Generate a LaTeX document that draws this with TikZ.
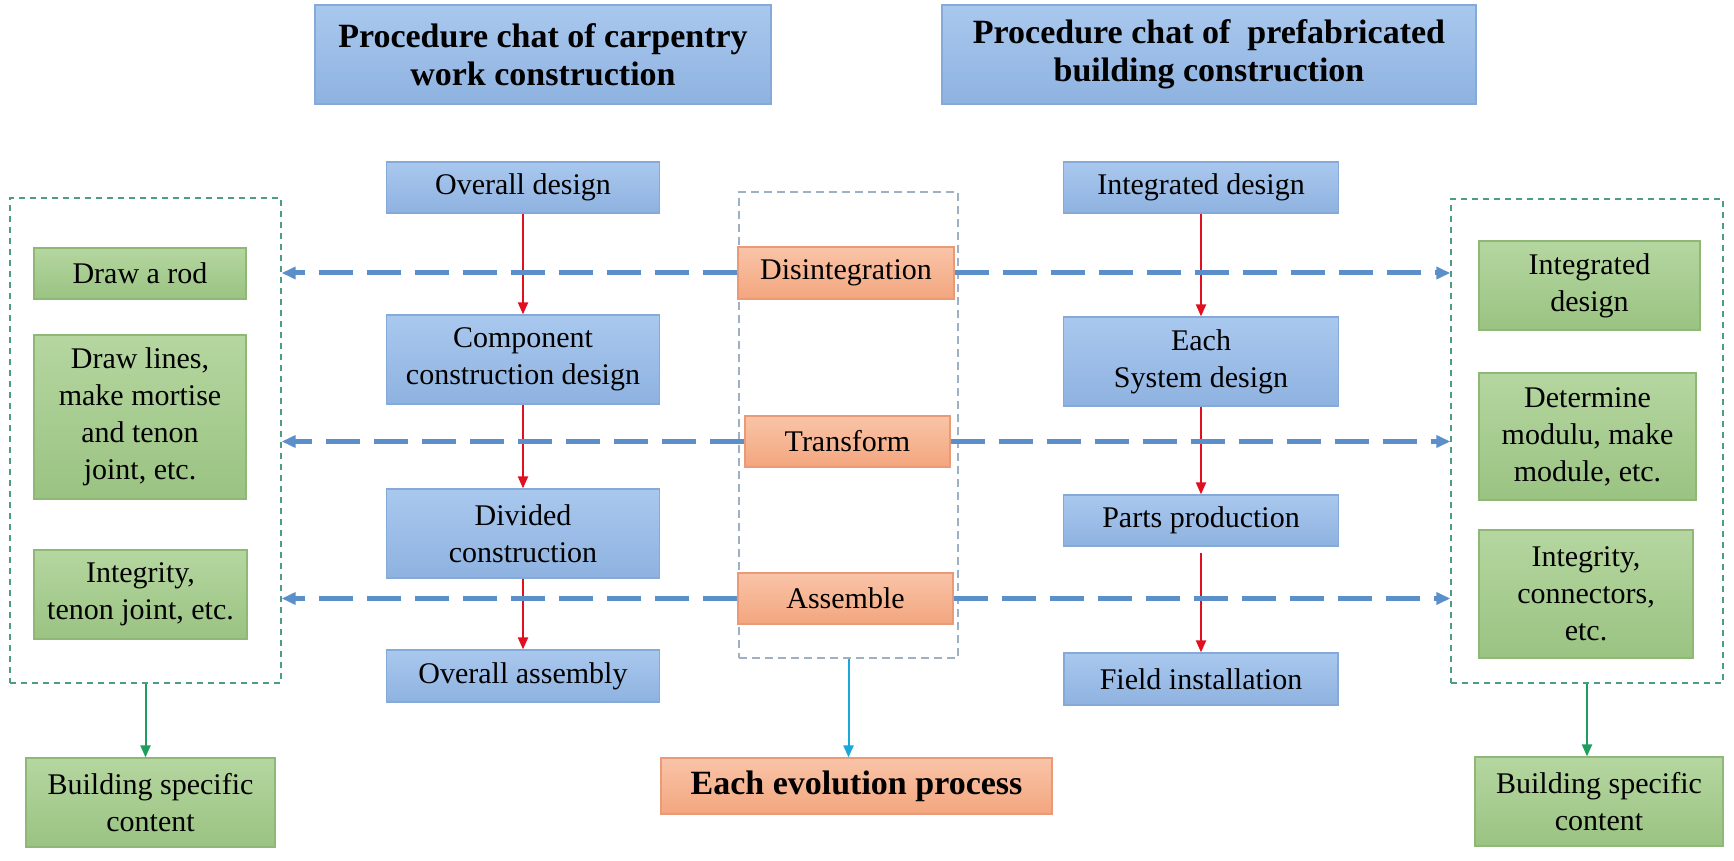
\documentclass[tikz,border=0pt]{standalone}
\usepackage{fontspec}
\setmainfont{Liberation Serif}
\usepackage{xcolor}
\usetikzlibrary{arrows.meta, positioning}
\definecolor{blueT}{HTML}{A9C8EE}
\definecolor{blueB}{HTML}{8EB2E0}
\definecolor{blueline}{HTML}{86AAD8}
\definecolor{greenT}{HTML}{B5D6A0}
\definecolor{greenB}{HTML}{9AC382}
\definecolor{greenline}{HTML}{8FB877}
\definecolor{orangeT}{HTML}{F9C4A8}
\definecolor{orangeB}{HTML}{F3A67E}
\definecolor{orangeline}{HTML}{EA9A76}
\definecolor{dashblue}{HTML}{5B8FC9}
\definecolor{arrowred}{HTML}{E01020}
\definecolor{arrowgreen}{HTML}{1E9E5A}
\definecolor{arrowcyan}{HTML}{1AA7DC}
\definecolor{framegreen}{HTML}{4E9C86}
\definecolor{framegrey}{HTML}{9DB0C4}
\tikzset{
every node/.style={font=\fontsize{15pt}{18.5pt}\selectfont, align=center, inner sep=0pt}, % Times-like text in every box
procbox/.style={draw=blueline, line width=0.6pt, top color=blueT, bottom color=blueB}, % blue procedure steps
titlebox/.style={procbox, font=\bfseries\fontsize{17pt}{19pt}\selectfont}, % the two headings
stagebox/.style={draw=orangeline, line width=0.6pt, top color=orangeT, bottom color=orangeB}, % orange stages
contentbox/.style={draw=greenline, line width=0.6pt, top color=greenT, bottom color=greenB}, % green contents
framebox/.style={draw=framegreen, line width=0.7pt, dash pattern=on 3pt off 2.5pt}, % dashed groups
stageframe/.style={draw=framegrey, line width=0.7pt, dash pattern=on 4pt off 2.5pt},
redarrow/.style={-{Triangle[length=6pt,width=5pt]}, arrowred, line width=1pt}, % steps of a procedure
dasharrow/.style={-{Triangle[length=7pt,width=6pt]}, dashblue, line width=2.5pt, dash pattern=on 17pt off 7pt},
greenarrow/.style={-{Triangle[length=6pt,width=5pt]}, arrowgreen, line width=1pt},
cyanarrow/.style={-{Triangle[length=6pt,width=5pt]}, arrowcyan, line width=1pt},
}
\begin{document}
\begin{tikzpicture}[x=0.5pt, y=-0.5pt]
        \useasboundingbox (0,0) rectangle (1734,861);

        % dashed groups
        \node[framebox, minimum width=135.5pt, minimum height=242.5pt] (lbox) at (145.5,440.5) {};
        \node[framebox, minimum width=136pt, minimum height=242pt] (rbox) at (1587,441) {};
        \node[stageframe, minimum width=109.5pt, minimum height=233pt] (cbox) at (848.5,425) {};

        % headings
        \node[titlebox, minimum width=228pt, minimum height=49.5pt] (tL) at (543,54.5) {Procedure chat of carpentry\\work construction};
        \node[titlebox, minimum width=267pt, minimum height=49.5pt] (tR) at (1209,54.5) {Procedure chat of\ \ prefabricated\\building construction};

        % carpentry work
        \node[procbox, minimum width=136.5pt, minimum height=25.5pt] (od) at (523,187.5) {Overall design};
        \node[procbox, minimum width=136.5pt, minimum height=44.5pt] (ccd) at (523,359.5) {Component\\construction design};
        \node[procbox, minimum width=136.5pt, minimum height=44.5pt] (dc) at (523,533.5) {Divided\\construction};
        \node[procbox, minimum width=136.5pt, minimum height=26pt] (oa) at (523,676) {Overall assembly};

        % prefabricated building
        \node[procbox, minimum width=137.5pt, minimum height=25.5pt] (id) at (1201,187.5) {Integrated design};
        \node[procbox, minimum width=137.5pt, minimum height=44.5pt] (esd) at (1201,361.5) {Each\\System design};
        \node[procbox, minimum width=137.5pt, minimum height=25.5pt] (pp) at (1201,520.5) {Parts production};
        \node[procbox, minimum width=137pt, minimum height=26pt] (fi) at (1201,679) {Field installation};

        % stages
        \node[stagebox, minimum width=108pt, minimum height=26pt] (dis) at (846,273) {Disintegration};
        \node[stagebox, minimum width=102.5pt, minimum height=25.5pt] (tra) at (847.5,441.5) {Transform};
        \node[stagebox, minimum width=107.5pt, minimum height=25.5pt] (ass) at (845.5,598.5) {Assemble};
        \node[stagebox, minimum width=195.5pt, minimum height=28pt, font=\bfseries\fontsize{17pt}{19pt}\selectfont] (eep) at (856.5,786) {Each evolution process};

        % carpentry contents
        \node[contentbox, minimum width=106pt, minimum height=25.5pt] (rod) at (140,273.5) {Draw a rod};
        \node[contentbox, minimum width=106pt, minimum height=82pt] (lines) at (140,417) {Draw lines,\\make mortise\\and tenon\\joint, etc.};
        \node[contentbox, minimum width=106.5pt, minimum height=44.5pt] (integ) at (140.5,594.5) {Integrity,\\tenon joint, etc.};
        \node[contentbox, minimum width=124.5pt, minimum height=44.5pt] (bscL) at (150.5,802.5) {Building specific\\content};

        % prefabricated contents
        \node[contentbox, minimum width=110.5pt, minimum height=44.5pt] (rid) at (1589.5,285.5) {Integrated\\design};
        \node[contentbox, minimum width=108.5pt, minimum height=63.5pt] (rdm) at (1587.5,436.5) {Determine\\modulu, make\\module, etc.};
        \node[contentbox, minimum width=107pt, minimum height=64pt] (ric) at (1586,594) {Integrity,\\connectors,\\etc.};
        \node[contentbox, minimum width=124pt, minimum height=44.5pt] (bscR) at (1599,801.5) {Building specific\\content};

        \draw[redarrow] (od) -- (ccd);
        \draw[redarrow] (ccd) -- (dc);
        \draw[redarrow] (dc) -- (oa);
        \draw[redarrow] (id) -- (esd);
        \draw[redarrow] (esd) -- (pp);
        \draw[redarrow, shorten <=3pt] (pp) -- (fi);

        \foreach \s in {dis, tra, ass} {
            \draw[dasharrow] (\s.west) -- (lbox.east |- \s.west);
            \draw[dasharrow] (\s.east) -- (rbox.west |- \s.east);
        }

        \draw[greenarrow] (lbox.south) -- (lbox.south |- bscL.north);
        \draw[greenarrow] (rbox.south) -- (rbox.south |- bscR.north);
        \draw[cyanarrow] (cbox.south) -- (cbox.south |- eep.north);
    \end{tikzpicture}
\end{document}
